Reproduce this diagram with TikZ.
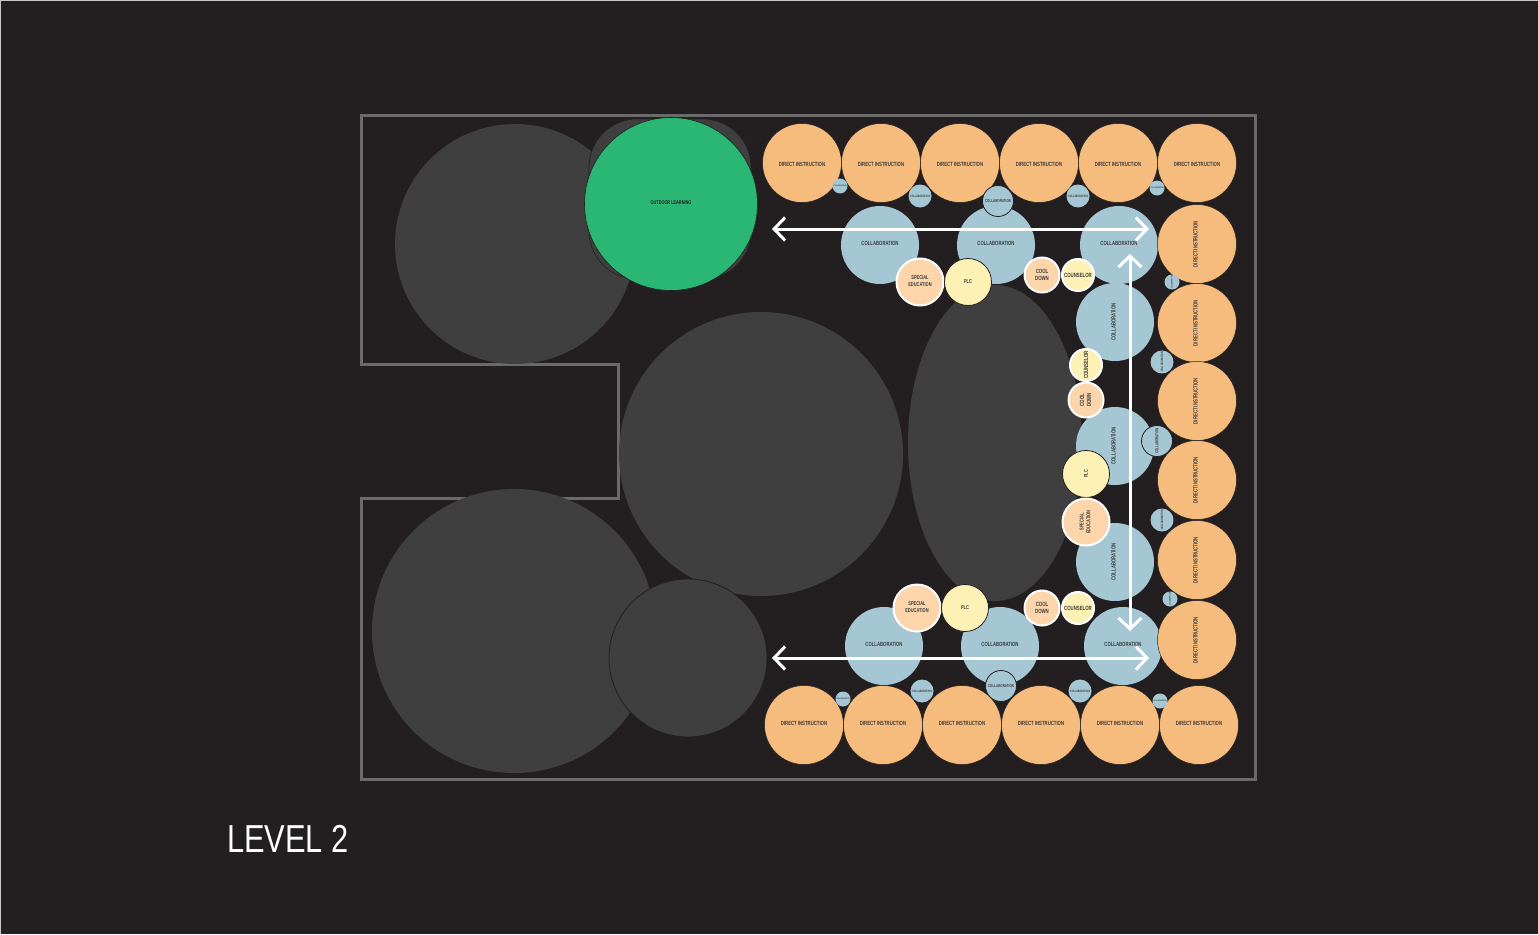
\documentclass[tikz,border=0pt]{standalone}
\usepackage{fontspec}
\setmainfont{Liberation Sans}
\newfontfamily\condfont[FakeStretch=0.71]{Liberation Sans}
\newfontfamily\titlefont[FakeStretch=0.79]{Liberation Sans}
\usetikzlibrary{arrows.meta, shapes.geometric, positioning}
\definecolor{bgcol}{HTML}{231F20}
\definecolor{blobcol}{HTML}{3F3F3F}
\definecolor{wallcol}{HTML}{6A6A6A}
\definecolor{instrcol}{HTML}{F6BC7E}
\definecolor{collabcol}{HTML}{A5C7D3}
\definecolor{plccol}{HTML}{FDF1B6}
\definecolor{specialcol}{HTML}{FCD5AB}
\definecolor{greencol}{HTML}{2AB673}
\definecolor{txtcol}{HTML}{3A3A3A}

\begin{document}
\begin{tikzpicture}[
  x=1pt, y=-1pt,
  node distance=1pt,
  room/.style={circle, inner sep=0pt, outer sep=0pt, align=center, text=txtcol,
               font=\condfont\bfseries\fontsize{6}{7}\selectfont},
  blob/.style={fill=blobcol, inner sep=0pt, outer sep=0pt},
  instr/.style={room, fill=instrcol, draw=bgcol, line width=0.5pt, minimum size=79pt},
  topinstr/.style={instr, text height=6.3pt},
  collab/.style={room, fill=collabcol, minimum size=78pt},
  huddle/.style={room, fill=collabcol, minimum size=15pt,
                 font=\condfont\bfseries\fontsize{2.1}{2.5}\selectfont},
  pod/.style={room, fill=collabcol, minimum size=23pt,
              font=\condfont\bfseries\fontsize{3.2}{3.8}\selectfont},
  bigpod/.style={room, fill=collabcol, draw=bgcol, line width=0.8pt, minimum size=31pt,
                 font=\condfont\bfseries\fontsize{4.2}{5}\selectfont},
  special/.style={room, fill=specialcol, draw=white, line width=2pt, minimum size=47pt,
                  text depth=2pt, font=\condfont\bfseries\fontsize{5.6}{6.7}\selectfont},
  plc/.style={room, fill=plccol, draw=bgcol, line width=0.8pt, minimum size=47pt,
              font=\condfont\bfseries\fontsize{5.6}{7}\selectfont},
  cooldown/.style={room, fill=specialcol, draw=white, line width=2pt, minimum size=35pt,
                   text depth=1pt, font=\condfont\bfseries\fontsize{6.1}{7.2}\selectfont},
  counselor/.style={room, fill=plccol, draw=white, line width=2pt, minimum size=32pt,
                    font=\condfont\bfseries\fontsize{6.1}{7}\selectfont},
  arr/.style={{Straight Barb[length=11pt,width=23pt]}-{Straight Barb[length=11pt,width=23pt]},
              draw=white, line width=3pt},
]
\fill[white!75!bgcol] (0,0) rectangle (1538,934);
\fill[bgcol] (1,1) rectangle (1538,934);

\draw[wallcol, line width=3pt] (361,115) -- (1255,115) -- (1255,779) -- (361,779)
  -- (361,498) -- (618,498) -- (618,364) -- (361,364) -- cycle;

\node[blob, circle, minimum size=240pt] (court) at (515,244) {};
\node[blob, circle, minimum size=284pt] (commons) at (761,454) {};
\node[blob, circle, minimum size=284pt] (forum) at (514,631) {};
\node[blob, circle, draw=bgcol, line width=0.8pt, minimum size=158pt] (stairs) at (688,658) {};
\node[blob, ellipse, minimum width=174pt, minimum height=316pt] (atrium) at (995,443) {};
\node[blob, rectangle, rounded corners=48pt, draw=bgcol, line width=0.6pt,
      minimum width=162pt, minimum height=160pt] (terrace) at (670,199) {};
\node[room, fill=greencol, draw=bgcol, line width=0.6pt, minimum size=173pt,
      text=bgcol, font=\condfont\bfseries\fontsize{5.4}{6}\selectfont] (outdoor) at (671,204)
      {\raisebox{3pt}{OUTDOOR LEARNING}};

\node[collab] (ct1) at (880,245) {\raisebox{3pt}{COLLABORATION}};
\node[collab] (ct2) at (996,245) {\raisebox{3pt}{COLLABORATION}};
\node[collab] (ct3) at (1119,245) {\raisebox{3pt}{COLLABORATION}};
\node[collab, rotate=90] (cr1) at (1115,322) {\raisebox{3pt}{COLLABORATION}};
\node[collab, rotate=90] (cr2) at (1115,446) {\raisebox{3pt}{COLLABORATION}};
\node[collab, rotate=90] (cr3) at (1115,562) {\raisebox{3pt}{COLLABORATION}};
\node[collab] (cb1) at (884,646) {\raisebox{3pt}{COLLABORATION}};
\node[collab] (cb2) at (1000,646) {\raisebox{3pt}{COLLABORATION}};
\node[collab] (cb3) at (1123,646) {\raisebox{3pt}{COLLABORATION}};

\node[topinstr] (t1) at (802,163) {DIRECT INSTRUCTION};
\node[topinstr, right=0pt of t1] (t2) {DIRECT INSTRUCTION};
\node[topinstr, right=0pt of t2] (t3) {DIRECT INSTRUCTION};
\node[topinstr, right=0pt of t3] (t4) {DIRECT INSTRUCTION};
\node[topinstr, right=0pt of t4] (t5) {DIRECT INSTRUCTION};
\node[topinstr, right=0pt of t5] (t6) {DIRECT INSTRUCTION};
\node[instr, rotate=90] (r1) at (1197,244) {\raisebox{3pt}{DIRECT INSTRUCTION}};
\node[instr, rotate=90] (r2) at (1197,323) {\raisebox{3pt}{DIRECT INSTRUCTION}};
\node[instr, rotate=90] (r3) at (1197,401) {\raisebox{3pt}{DIRECT INSTRUCTION}};
\node[instr, rotate=90] (r4) at (1197,480) {\raisebox{3pt}{DIRECT INSTRUCTION}};
\node[instr, rotate=90] (r5) at (1197,560) {\raisebox{3pt}{DIRECT INSTRUCTION}};
\node[instr, rotate=90] (r6) at (1197,640) {\raisebox{3pt}{DIRECT INSTRUCTION}};
\node[instr] (b1) at (804,725) {\raisebox{3pt}{DIRECT INSTRUCTION}};
\node[instr, right=0pt of b1] (b2) {\raisebox{3pt}{DIRECT INSTRUCTION}};
\node[instr, right=0pt of b2] (b3) {\raisebox{3pt}{DIRECT INSTRUCTION}};
\node[instr, right=0pt of b3] (b4) {\raisebox{3pt}{DIRECT INSTRUCTION}};
\node[instr, right=0pt of b4] (b5) {\raisebox{3pt}{DIRECT INSTRUCTION}};
\node[instr, right=0pt of b5] (b6) {\raisebox{3pt}{DIRECT INSTRUCTION}};

\node[huddle] (h1) at (840,186) {COLLABORATION};
\node[pod] (p1) at (920,196) {COLLABORATION};
\node[bigpod] (q1) at (998,201) {COLLABORATION};
\node[pod] (p2) at (1078,196) {COLLABORATION};
\node[huddle] (h2) at (1157,188) {COLLABORATION};
\node[huddle, rotate=90] (h3) at (1172,282) {COLLABORATION};
\node[pod, rotate=90] (p3) at (1162,362) {COLLABORATION};
\node[bigpod, rotate=90] (q2) at (1157,441) {COLLABORATION};
\node[pod, rotate=90] (p4) at (1162,520) {COLLABORATION};
\node[huddle, rotate=90] (h4) at (1170,599) {COLLABORATION};
\node[huddle] (h5) at (843,699) {COLLABORATION};
\node[pod] (p5) at (922,691) {COLLABORATION};
\node[bigpod] (q3) at (1001,686) {COLLABORATION};
\node[pod] (p6) at (1080,691) {COLLABORATION};
\node[huddle] (h6) at (1160,701) {COLLABORATION};

\node[special] (st) at (920,282) {SPECIAL\\EDUCATION};
\node[plc] (pt) at (968,282) {PLC};
\node[cooldown] (dt) at (1042,275) {COOL\\DOWN};
\node[counselor] (nt) at (1078,275) {COUNSELOR};
\node[counselor, rotate=90] (nr) at (1086,365) {COUNSELOR};
\node[cooldown, rotate=90] (dr) at (1086,400) {COOL\\DOWN};
\node[plc, rotate=90] (pr) at (1086,474) {PLC};
\node[special, rotate=90] (sr) at (1086,522) {SPECIAL\\EDUCATION};
\node[special] (sb) at (917,608) {SPECIAL\\EDUCATION};
\node[plc] (pb) at (965,608) {PLC};
\node[cooldown] (db) at (1042,608) {COOL\\DOWN};
\node[counselor] (nb) at (1078,608) {COUNSELOR};

\coordinate (tw) at (772,229);
\coordinate (te) at (1149,229);
\coordinate (vn) at (1130,254);
\coordinate (vs) at (1130,631);
\coordinate (bw) at (772,658);
\coordinate (be) at (1149,658);
\draw[arr] (tw) -- (te);
\draw[arr] (vn) -- (vs);
\draw[arr] (bw) -- (be);

\node[anchor=west, text=white, inner sep=0pt, font=\titlefont\fontsize{39}{39}\selectfont]
  (level) at (227,839) {LEVEL 2};
\end{tikzpicture}
\end{document}
